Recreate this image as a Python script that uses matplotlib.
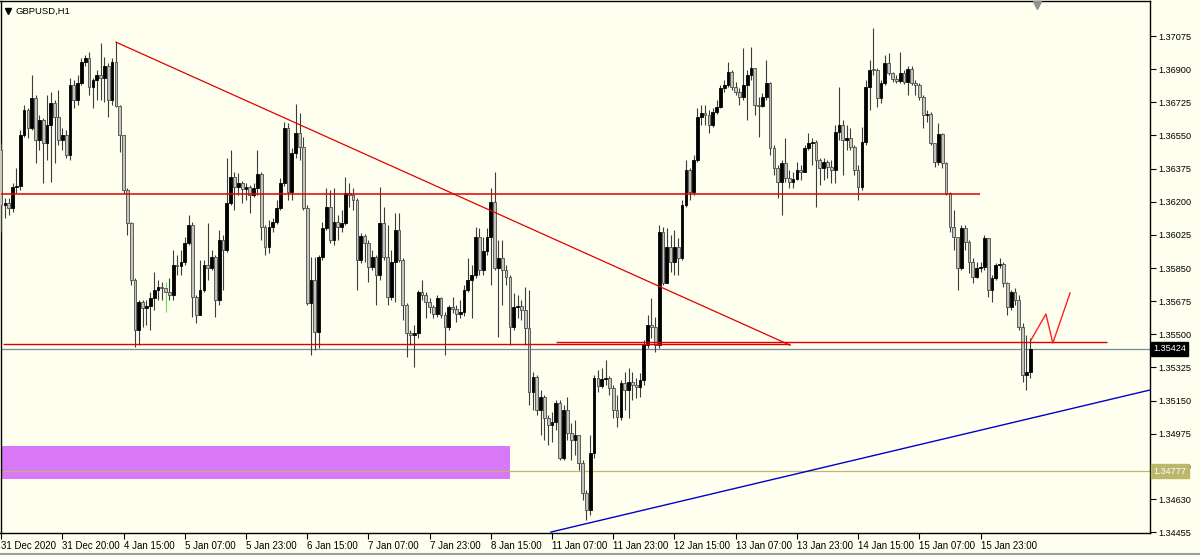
import numpy as np
import matplotlib.pyplot as plt
import matplotlib.transforms as mtrans
from matplotlib.patches import Rectangle

plt.rcParams['font.family'] = ['Liberation Sans', 'DejaVu Sans']

# ---- GBPUSD H1 bars ----
open_first = 1.36473
close = [
    1.36183, 1.36193, 1.36167, 1.36278, 1.36283, 1.36552, 1.36684, 1.36589, 1.36748, 1.36526,
    1.36631, 1.36510, 1.36605, 1.36721, 1.36647, 1.36526, 1.36552, 1.36447, 1.36816, 1.36737,
    1.36827, 1.36938, 1.36959, 1.36806, 1.36843, 1.36869, 1.36853, 1.36917, 1.36737, 1.36938,
    1.36705, 1.36552, 1.36262, 1.36088, 1.35787, 1.35523, 1.35670, 1.35639, 1.35649, 1.35692,
    1.35734, 1.35750, 1.35744, 1.35723, 1.35707, 1.35866, 1.35861, 1.35882, 1.35982, 1.36077,
    1.35697, 1.35602, 1.35734, 1.35866, 1.35850, 1.35908, 1.35681, 1.35998, 1.35945, 1.36193,
    1.36330, 1.36278, 1.36299, 1.36267, 1.36278, 1.36235, 1.36272, 1.36346, 1.36066, 1.35961,
    1.36066, 1.36093, 1.36167, 1.36299, 1.36589, 1.36251, 1.36457, 1.36563, 1.36489, 1.36167,
    1.35665, 1.35787, 1.35512, 1.35908, 1.36061, 1.36172, 1.35998, 1.36093, 1.36066, 1.36088,
    1.36246, 1.36235, 1.36209, 1.35892, 1.36019, 1.35982, 1.35855, 1.35908, 1.35813, 1.36088,
    1.35908, 1.35697, 1.35882, 1.36051, 1.35892, 1.35655, 1.35507, 1.35496, 1.35507, 1.35723,
    1.35707, 1.35670, 1.35644, 1.35607, 1.35692, 1.35602, 1.35538, 1.35644, 1.35633, 1.35607,
    1.35618, 1.35734, 1.35787, 1.35813, 1.36014, 1.35839, 1.35940, 1.36014, 1.36198, 1.35850,
    1.35903, 1.35839, 1.35802, 1.35538, 1.35644, 1.35649, 1.35628, 1.35533, 1.35195, 1.35274,
    1.35100, 1.35169, 1.35058, 1.35021, 1.35037, 1.35137, 1.34847, 1.35100, 1.34979, 1.34942,
    1.34968, 1.34820, 1.34662, 1.34572, 1.34873, 1.35269, 1.35227, 1.35264, 1.35269, 1.35216,
    1.35100, 1.35063, 1.35243, 1.35206, 1.35248, 1.35232, 1.35222, 1.35259, 1.35443, 1.35549,
    1.35538, 1.35443, 1.36040, 1.35771, 1.35961, 1.35882, 1.35961, 1.35903, 1.36183, 1.36367,
    1.36251, 1.36420, 1.36647, 1.36668, 1.36658, 1.36605, 1.36674, 1.36700, 1.36800, 1.36816,
    1.36885, 1.36806, 1.36779, 1.36753, 1.36816, 1.36869, 1.36906, 1.36711, 1.36705, 1.36753,
    1.36827, 1.36484, 1.36378, 1.36304, 1.36404, 1.36325, 1.36304, 1.36320, 1.36367, 1.36357,
    1.36484, 1.36510, 1.36515, 1.36420, 1.36378, 1.36410, 1.36383, 1.36367, 1.36568, 1.36605,
    1.36526, 1.36536, 1.36489, 1.36367, 1.36278, 1.36515, 1.36806, 1.36895, 1.36895, 1.36748,
    1.36827, 1.36932, 1.36880, 1.36848, 1.36837, 1.36880, 1.36832, 1.36901, 1.36827, 1.36816,
    1.36753, 1.36658, 1.36663, 1.36510, 1.36410, 1.36557, 1.36404, 1.36246, 1.36066, 1.36014,
    1.35850, 1.36061, 1.35987, 1.35882, 1.35802, 1.35850, 1.35855, 1.36008, 1.35734, 1.35797,
    1.35866, 1.35871, 1.35771, 1.35644, 1.35723, 1.35681, 1.35538, 1.35285, 1.35301, 1.35424,
]
high = [
    1.36510, 1.36220, 1.36220, 1.36299, 1.36378, 1.36579, 1.36711, 1.36695, 1.36869, 1.36763,
    1.36658, 1.36642, 1.36763, 1.36779, 1.36737, 1.36790, 1.36589, 1.36579, 1.36853, 1.36843,
    1.36869, 1.36959, 1.36975, 1.36990, 1.36853, 1.36895, 1.37038, 1.36964, 1.36932, 1.36959,
    1.37043, 1.36711, 1.36552, 1.36272, 1.36093, 1.35797, 1.35681, 1.35681, 1.35681, 1.35723,
    1.35829, 1.35787, 1.35776, 1.35776, 1.35797, 1.35945, 1.35919, 1.35945, 1.36014, 1.36130,
    1.36093, 1.35707, 1.35892, 1.35892, 1.36088, 1.35945, 1.35919, 1.36051, 1.36024, 1.36431,
    1.36473, 1.36357, 1.36352, 1.36309, 1.36299, 1.36288, 1.36299, 1.36473, 1.36357, 1.36077,
    1.36103, 1.36114, 1.36209, 1.36325, 1.36621, 1.36616, 1.36484, 1.36716, 1.36668, 1.36542,
    1.36183, 1.35908, 1.35908, 1.35919, 1.36093, 1.36272, 1.36262, 1.36272, 1.36130, 1.36156,
    1.36330, 1.36299, 1.36272, 1.36220, 1.36035, 1.36029, 1.35998, 1.35945, 1.35919, 1.36278,
    1.36172, 1.36077, 1.35945, 1.36140, 1.36140, 1.35903, 1.35665, 1.35523, 1.35549, 1.35734,
    1.35787, 1.35723, 1.35692, 1.35655, 1.35707, 1.35697, 1.35618, 1.35655, 1.35697, 1.35655,
    1.35681, 1.35760, 1.35903, 1.35866, 1.36066, 1.36061, 1.36014, 1.36061, 1.36272, 1.36357,
    1.35998, 1.35998, 1.35866, 1.35813, 1.35718, 1.35707, 1.35681, 1.35750, 1.35734, 1.35301,
    1.35285, 1.35206, 1.35179, 1.35074, 1.35090, 1.35153, 1.35153, 1.35127, 1.35169, 1.35032,
    1.35047, 1.34931, 1.34836, 1.34678, 1.34968, 1.35285, 1.35311, 1.35322, 1.35364, 1.35280,
    1.35232, 1.35179, 1.35259, 1.35301, 1.35322, 1.35301, 1.35269, 1.35296, 1.35470, 1.35602,
    1.35692, 1.35591, 1.36077, 1.36066, 1.36061, 1.36024, 1.36051, 1.36008, 1.36209, 1.36420,
    1.36378, 1.36447, 1.36695, 1.36711, 1.36711, 1.36684, 1.36695, 1.36737, 1.36816, 1.36843,
    1.36938, 1.36895, 1.36832, 1.36800, 1.37012, 1.36895, 1.37017, 1.36906, 1.36753, 1.36774,
    1.36948, 1.36832, 1.36499, 1.36394, 1.36420, 1.36536, 1.36367, 1.36357, 1.36410, 1.36394,
    1.36499, 1.36563, 1.36536, 1.36526, 1.36431, 1.36431, 1.36420, 1.36420, 1.36605, 1.36806,
    1.36631, 1.36605, 1.36589, 1.36499, 1.36394, 1.36594, 1.36843, 1.36948, 1.37117, 1.36906,
    1.36843, 1.36975, 1.36985, 1.36885, 1.36869, 1.36990, 1.36895, 1.36917, 1.36917, 1.36843,
    1.36827, 1.36763, 1.36684, 1.36674, 1.36510, 1.36616, 1.36563, 1.36410, 1.36251, 1.36156,
    1.36014, 1.36077, 1.36077, 1.35998, 1.35903, 1.35882, 1.35882, 1.36024, 1.36008, 1.35813,
    1.35876, 1.35903, 1.35882, 1.35776, 1.35734, 1.35744, 1.35707, 1.35560, 1.35496, 1.35480,
]
low = [
    1.36040, 1.36114, 1.36130, 1.36146, 1.36246, 1.36262, 1.36542, 1.36536, 1.36579, 1.36404,
    1.36473, 1.36299, 1.36420, 1.36304, 1.36404, 1.36499, 1.36473, 1.36431, 1.36420, 1.36695,
    1.36711, 1.36816, 1.36917, 1.36763, 1.36695, 1.36737, 1.36737, 1.36726, 1.36647, 1.36711,
    1.36700, 1.36462, 1.36246, 1.36024, 1.35760, 1.35433, 1.35443, 1.35538, 1.35549, 1.35523,
    1.35628, 1.35681, 1.35681, 1.35618, 1.35681, 1.35681, 1.35813, 1.35813, 1.35866, 1.35971,
    1.35591, 1.35560, 1.35602, 1.35723, 1.35787, 1.35839, 1.35591, 1.35655, 1.35734, 1.35934,
    1.36183, 1.36156, 1.36235, 1.36193, 1.36209, 1.36140, 1.36225, 1.36235, 1.35998, 1.35919,
    1.35929, 1.36040, 1.36082, 1.36156, 1.36283, 1.36209, 1.36209, 1.36431, 1.36420, 1.36156,
    1.35655, 1.35391, 1.35417, 1.35428, 1.35892, 1.36051, 1.35982, 1.35971, 1.35998, 1.36040,
    1.36077, 1.36172, 1.36156, 1.35734, 1.35876, 1.35882, 1.35776, 1.35839, 1.35655, 1.35787,
    1.35892, 1.35655, 1.35681, 1.35670, 1.35882, 1.35575, 1.35380, 1.35443, 1.35327, 1.35480,
    1.35681, 1.35586, 1.35612, 1.35586, 1.35591, 1.35586, 1.35391, 1.35523, 1.35612, 1.35565,
    1.35586, 1.35597, 1.35723, 1.35586, 1.35797, 1.35813, 1.35813, 1.35919, 1.35760, 1.35839,
    1.35486, 1.35655, 1.35760, 1.35443, 1.35523, 1.35586, 1.35575, 1.35443, 1.35127, 1.35100,
    1.35074, 1.34968, 1.34942, 1.34915, 1.34931, 1.34995, 1.34836, 1.34836, 1.34942, 1.34836,
    1.34863, 1.34783, 1.34625, 1.34519, 1.34546, 1.34847, 1.35195, 1.35216, 1.35232, 1.35179,
    1.35058, 1.35010, 1.35047, 1.35100, 1.35058, 1.35153, 1.35164, 1.35169, 1.35232, 1.35428,
    1.35480, 1.35406, 1.35428, 1.35760, 1.35771, 1.35829, 1.35813, 1.35813, 1.35892, 1.36172,
    1.36209, 1.36235, 1.36410, 1.36605, 1.36605, 1.36563, 1.36594, 1.36663, 1.36695, 1.36779,
    1.36806, 1.36790, 1.36763, 1.36711, 1.36737, 1.36631, 1.36843, 1.36658, 1.36542, 1.36700,
    1.36737, 1.36447, 1.36341, 1.36220, 1.36130, 1.36304, 1.36272, 1.36272, 1.36315, 1.36315,
    1.36357, 1.36473, 1.36394, 1.36172, 1.36288, 1.36315, 1.36325, 1.36299, 1.36299, 1.36526,
    1.36341, 1.36473, 1.36473, 1.36341, 1.36209, 1.36262, 1.36499, 1.36684, 1.36869, 1.36700,
    1.36721, 1.36816, 1.36869, 1.36832, 1.36827, 1.36827, 1.36821, 1.36763, 1.36816, 1.36763,
    1.36737, 1.36589, 1.36621, 1.36499, 1.36383, 1.36394, 1.36378, 1.36235, 1.36040, 1.35945,
    1.35734, 1.35839, 1.35945, 1.35824, 1.35771, 1.35797, 1.35829, 1.35839, 1.35697, 1.35670,
    1.35787, 1.35850, 1.35750, 1.35602, 1.35628, 1.35655, 1.35523, 1.35248, 1.35206, 1.35269,
]

time_labels = ['31 Dec 2020', '31 Dec 20:00', '4 Jan 15:00', '5 Jan 07:00', '5 Jan 23:00',
               '6 Jan 15:00', '7 Jan 07:00', '7 Jan 23:00', '8 Jan 15:00', '11 Jan 07:00',
               '11 Jan 23:00', '12 Jan 15:00', '13 Jan 07:00', '13 Jan 23:00', '14 Jan 15:00',
               '15 Jan 07:00', '15 Jan 23:00']
price_ticks = [1.37075, 1.36900, 1.36725, 1.36550, 1.36375, 1.36200, 1.36025, 1.35850,
               1.35675, 1.35500, 1.35325, 1.35150, 1.34975, 1.34800, 1.34630, 1.34455]

# drawn objects (bar index, price)
resistance = (1.36241, -0.2, 255.9)
support_a = (1.35450, 0.5, 206.2)
support_b = (1.35458, 145.0, 289.0)
down_trend = ([30, 206.2], [1.37043, 1.35443])
up_trend = ([143.7, 300.3], [1.34456, 1.35206])
forecast = ([269.2, 273.1, 274.9, 279.4], [1.35470, 1.35607, 1.35454, 1.35718])
zone = (-0.3, 133.0, 1.34736, 1.34910)
bid = 1.35424
level_olive = 1.34777
green_bar = 43

bg = '#fffff0'
W, H = 1200, 557
fig = plt.figure(figsize=(W / 100, H / 100), dpi=100, facecolor=bg)
ax = fig.add_axes([0.5 / W, 1 - 533 / H, 1149.5 / W, 532 / H], facecolor=bg)

n = len(close)
x = np.arange(n)
c = np.array(close)
o = np.array([open_first] + close[:-1])
hi = np.maximum(np.array(high), np.maximum(o, c))
lo = np.minimum(np.array(low), np.minimum(o, c))
bull = c > o

wick_col = ['#66dd55' if i == green_bar else '#3c3c3c' for i in x]
ax.vlines(x, lo, hi, colors=wick_col, linewidth=0.8, zorder=3)
body_h = np.abs(c - o)
body_h = np.where(body_h < 0.00004, 0.00004, body_h)
ax.bar(x[bull], body_h[bull], bottom=np.minimum(o, c)[bull], width=0.72,
       color='black', edgecolor='black', linewidth=0.6, zorder=4)
ax.bar(x[~bull], body_h[~bull], bottom=np.minimum(o, c)[~bull], width=0.72,
       color='#c4c4bc', edgecolor='#4a4a4a', linewidth=0.6, zorder=4)

# objects
ax.add_patch(Rectangle((zone[0], zone[2]), zone[1] - zone[0], zone[3] - zone[2],
                       facecolor='#d877f7', edgecolor='none', zorder=1))
ax.hlines(bid, -1, 310, colors='#778899', linewidth=0.9, zorder=2)
ax.hlines(level_olive, -1, 310, colors='#bdb76b', linewidth=0.9, zorder=2)
ax.hlines(resistance[0], resistance[1], resistance[2], colors='#e00000', linewidth=1.1, zorder=5)
ax.hlines(support_a[0], support_a[1], support_a[2], colors='#e00000', linewidth=1.0, zorder=5)
ax.hlines(support_b[0], support_b[1], support_b[2], colors='#e00000', linewidth=1.0, zorder=5)
ax.plot(*down_trend, color='#e00000', linewidth=0.9, zorder=5)
ax.plot(*up_trend, color='#0000cd', linewidth=1.0, zorder=5)
ax.plot(*forecast, color='#ff2020', linewidth=1.0, zorder=5)

ax.set_xlim(-0.16, 300.3)
ax.set_ylim(1.34451, 1.37260)

ax.set_xticks(np.arange(0, 16 * len(time_labels), 16))
ax.set_xticklabels(time_labels, ha='left', fontsize=7)
ax.set_yticks(price_ticks)
ax.set_yticklabels(['%.5f' % p for p in price_ticks], fontsize=6.6)
ax.tick_params(axis='y', left=False, right=True, labelleft=False, labelright=True,
               direction='out', length=4, width=0.8, pad=2, colors='black')
ax.tick_params(axis='x', direction='out', length=4, width=0.8, pad=2, colors='black')
for s in ax.spines.values():
    s.set_color('black')
    s.set_linewidth(1.0)

yt = mtrans.blended_transform_factory(ax.transAxes, ax.transData)
ax.text(1.0028, bid, '1.35424', transform=yt, fontsize=6.6, color='white', va='center',
        ha='left', zorder=10, clip_on=False,
        bbox=dict(boxstyle='square,pad=0.25', facecolor='black', edgecolor='black'))
ax.text(1.0028, level_olive, '1.34777', transform=yt, fontsize=6.6, color='white', va='center',
        ha='left', zorder=10, clip_on=False,
        bbox=dict(boxstyle='square,pad=0.25', facecolor='#bdb76b', edgecolor='#bdb76b'))

# title and window marks
ax.text(15 / 1150, 1 - 10 / 532, 'GBPUSD,H1', transform=ax.transAxes, fontsize=6.8,
        va='center', ha='left', zorder=10)
ax.plot([8 / 1150], [1 - 10 / 532], marker='v', markersize=4, color='black',
        transform=ax.transAxes, clip_on=False, zorder=10)
ax.plot([1037 / 1150], [1 - 4 / 532], marker='v', markersize=6, color='#909090',
        transform=ax.transAxes, clip_on=False, zorder=10)

fig.add_artist(plt.Line2D([0, 1], [3 / H, 3 / H], color='#a0a0a0', linewidth=1.5))

fig.savefig('out.png', dpi=100, facecolor=bg)
